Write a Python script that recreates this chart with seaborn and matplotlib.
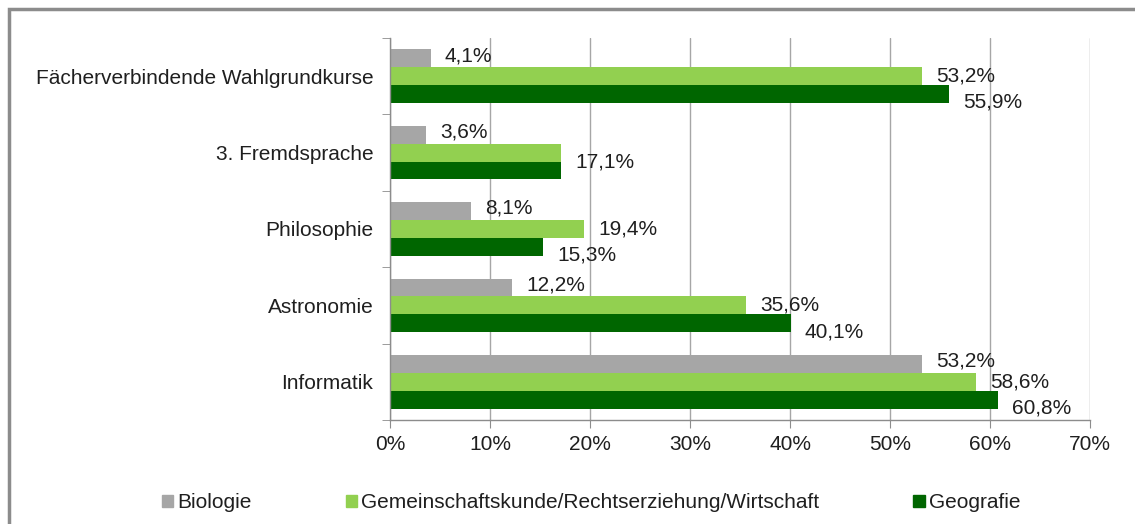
import pandas as pd
import seaborn as sns
from matplotlib import pyplot as plt
from matplotlib.patches import Rectangle
from matplotlib.ticker import FixedLocator

sns.set_style("white")
plt.rcParams['font.family'] = ['Liberation Sans', 'DejaVu Sans']

#### Daten (Anteile in %)
kategorien = ["Fächerverbindende Wahlgrundkurse", "3. Fremdsprache", "Philosophie",
              "Astronomie", "Informatik"]
reihen = ["Biologie", "Gemeinschaftskunde/Rechtserziehung/Wirtschaft", "Geografie"]
biologie = [4.1, 3.6, 8.1, 12.2, 53.2]
gemeinschaftskunde = [53.2, 17.1, 19.4, 35.6, 58.6]
geografie = [55.9, 17.1, 15.3, 40.1, 60.8]
farben = ["#A6A6A6", "#92D050", "#006600"]

werte = [biologie, gemeinschaftskunde, geografie]
rows = []
for r, vals in zip(reihen, werte):
    for k, v in zip(kategorien, vals):
        rows.append({"Kategorie": k, "Reihe": r, "Wert": v})
plot_data = pd.DataFrame(rows)

fs = 15
fig = plt.figure(figsize=(11.35, 5.24), dpi=100)
ax = fig.add_axes([390 / 1135, 104 / 524, 700 / 1135, 382 / 524])

sns.barplot(data=plot_data, y="Kategorie", x="Wert", hue="Reihe", orient="h",
            order=kategorien, hue_order=reihen, palette=farben, width=0.7,
            gap=0, saturation=1, errorbar=None, ax=ax, legend=False,
            linewidth=0)

# Beschriftungen rechts neben den Balken, leicht versetzt wie im Original
dy = [2, 0, -6]
for i, (cont, d) in enumerate(zip(ax.containers, dy)):
    for j, bar in enumerate(cont):
        v = bar.get_width()
        # gleiche Werte in einer Gruppe nur einmal beschriften (wie im Original)
        if i == 2 and werte[1][j] == v:
            continue
        off = d
        if i == 1 and werte[2][j] == v:
            off = -7
        ax.annotate(f"{v:.1f}%".replace(".", ","),
                    (v, bar.get_y() + bar.get_height() / 2),
                    xytext=(10, off), textcoords="offset points",
                    ha="left", va="center", fontsize=fs, color="#1F1F1F")

ax.set_xlim(0, 70)
ax.set_ylim(4.5, -0.5)
ax.set_xticks(range(0, 71, 10))
ax.set_xticklabels([f"{t}%" for t in range(0, 71, 10)], fontsize=fs)
ax.yaxis.set_minor_locator(FixedLocator([i - 0.5 for i in range(6)]))
ax.tick_params(axis="y", which="major", length=0, pad=12, labelsize=fs,
               labelcolor="#1F1F1F")
ax.tick_params(axis="y", which="minor", length=6, color="#8C8C8C", left=True)
ax.tick_params(axis="x", length=6, color="#8C8C8C", bottom=True, pad=5,
               labelcolor="#1F1F1F")
ax.set_xlabel("")
ax.set_ylabel("")
ax.grid(axis="x", color="#A6A6A6", linewidth=1)
ax.set_axisbelow(True)
for s in ["top", "right"]:
    ax.spines[s].set_visible(False)
for s in ["left", "bottom"]:
    ax.spines[s].set_color("#8C8C8C")
    ax.spines[s].set_linewidth(1)

# Legende
handles = [Rectangle((0, 0), 1, 1, color=c) for c in farben]
fig.legend(handles, reihen, loc="center", bbox_to_anchor=(591 / 1135, 21 / 524),
           ncol=3, frameon=False, fontsize=fs, handlelength=0.55, handleheight=0.55,
           handletextpad=0.2, columnspacing=4.5, labelcolor="#1F1F1F")

# Rahmen
fig.patches.append(Rectangle((9 / 1135, -0.1), 1.2, (524 - 9) / 524 + 0.1,
                             transform=fig.transFigure, fill=False,
                             edgecolor="#8C8C8C", linewidth=2.5))

plt.savefig("out.png", dpi=100)
